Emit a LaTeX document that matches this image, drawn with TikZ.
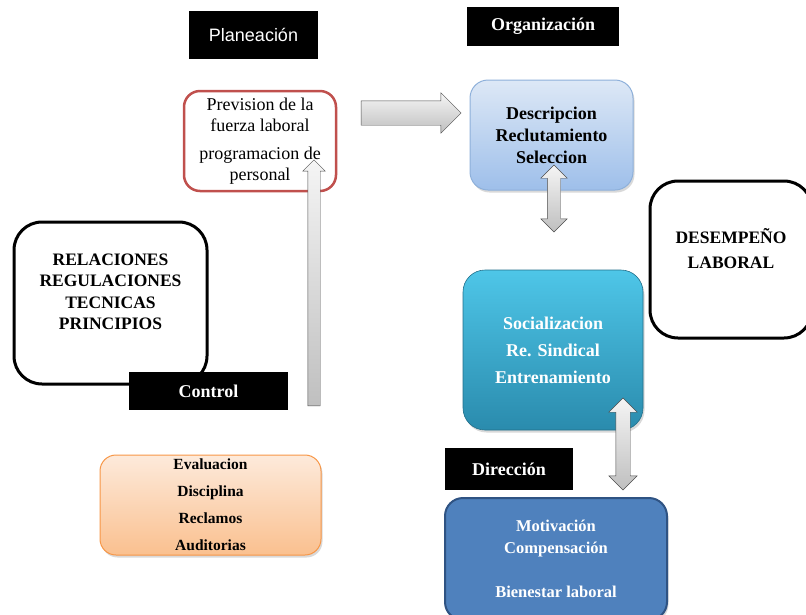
\documentclass[tikz,border=0pt]{standalone}
\usepackage{fontspec}
\setmainfont{Liberation Serif}
\newfontfamily\sansfnt{Liberation Sans}
\usetikzlibrary{shapes.arrows, shadows}
\definecolor{prevred}{HTML}{C0504D}
\definecolor{orgtop}{HTML}{DDE8F6}
\definecolor{orgbot}{HTML}{9EBFEA}
\definecolor{orgline}{HTML}{8EB0DA}
\definecolor{soctop}{HTML}{4EC6E8}
\definecolor{socbot}{HTML}{2A8BAD}
\definecolor{evaltop}{HTML}{FDEADB}
\definecolor{evalbot}{HTML}{FAC08F}
\definecolor{evalline}{HTML}{F79646}
\definecolor{motfill}{HTML}{4F81BD}
\definecolor{motline}{HTML}{2F5383}

\begin{document}
\begin{tikzpicture}[x=1pt, y=-1pt,
  tag/.style={fill=black, text=white, inner sep=0pt,
    font=\fontsize{18}{20}\selectfont\bfseries},
  box/.style={rounded corners=16pt, inner sep=0pt, align=center},
  bigbox/.style={box, rounded corners=28pt, draw=black, line width=3pt},
  softshadow/.style={drop shadow={shadow xshift=1.5pt, shadow yshift=-2.5pt, opacity=0.3}},
  blockarrow/.style={single arrow, single arrow head indent=0pt, inner xsep=0pt,
    draw=gray!60!black, top color=gray!8, bottom color=gray!50},
  twoarrow/.style={double arrow, double arrow head indent=0pt, inner xsep=0pt,
    draw=gray!60!black, top color=gray!8, bottom color=gray!50}]
\useasboundingbox (0,0) rectangle (806,614);

% ---------- black headings ----------
\node[tag, minimum width=129pt, minimum height=48pt,
  font=\sansfnt\fontsize{18}{20}\selectfont] (plan) at (253.5,35) {Planeación};
\node[tag, minimum width=152pt, minimum height=39pt] (org) at (543,26.5) {Organización};

% ---------- planning box ----------
\node[box, draw=prevred, line width=2.5pt, fill=white, minimum width=152pt,
  minimum height=100pt, font=\fontsize{18}{20.5}\selectfont] (prev) at (260,141)
  {Prevision de la\\fuerza laboral\\[8pt]programacion de\\personal};

% ---------- organisation box ----------
\node[box, rounded corners=18pt, draw=orgline, line width=1pt, top color=orgtop,
  bottom color=orgbot, softshadow, minimum width=163pt, minimum height=110pt,
  font=\fontsize{18}{22}\selectfont\bfseries] (desc) at (551.5,135)
  {Descripcion\\Reclutamiento\\Seleccion};

% ---------- side boxes ----------
\node[bigbox, minimum width=193pt, minimum height=162pt] (rel) at (110.5,303) {};
\node[align=center, inner sep=0pt, font=\fontsize{17.5}{21.5}\selectfont\bfseries]
  (relT) at (110.5,292) {RELACIONES\\REGULACIONES\\TECNICAS\\PRINCIPIOS};
\node[bigbox, minimum width=162pt, minimum height=157pt] (des) at (731,259.5) {};
\node[align=center, inner sep=0pt, font=\fontsize{17.5}{25}\selectfont\bfseries]
  (desT) at (731,249) {DESEMPEÑO\\LABORAL};

% ---------- socialisation box ----------
\node[box, rounded corners=22pt, draw=socbot!80!black, line width=0.6pt,
  top color=soctop, bottom color=socbot, softshadow, text=white,
  minimum width=180pt, minimum height=160pt,
  font=\fontsize{18}{27}\selectfont\bfseries] (soc) at (553,350)
  {Socializacion\\Re. Sindical\\Entrenamiento};

% ---------- control ----------
\node[tag, minimum width=159pt, minimum height=38pt] (ctrl) at (208.5,391) {Control};
\node[box, draw=evalline, line width=1pt, top color=evaltop, bottom color=evalbot,
  softshadow, minimum width=221pt, minimum height=100pt,
  font=\fontsize{15.5}{27}\selectfont\bfseries] (eval) at (210.5,505)
  {Evaluacion\\Disciplina\\Reclamos\\Auditorias};

% ---------- direction ----------
\node[tag, minimum width=128pt, minimum height=42pt] (dir) at (509,469) {Dirección};
\node[box, rounded corners=18pt, draw=motline, line width=2pt, fill=motfill,
  softshadow, text=white, minimum width=222pt, minimum height=122pt,
  font=\fontsize{16.5}{22}\selectfont\bfseries] (mot) at (556,559)
  {Motivación\\Compensación\\[22pt]Bienestar laboral};

% ---------- block arrows ----------
\node[blockarrow, minimum height=100pt, minimum width=40pt, inner ysep=12pt,
  single arrow head extend=8pt] (toOrg) at (405,113) {};
\node[blockarrow, rotate=90, minimum height=246pt, minimum width=22pt, inner ysep=6pt,
  single arrow head extend=5pt] (toPrev) at (314,286) {};
\node[twoarrow, rotate=90, minimum height=67pt, minimum width=26pt, inner ysep=6.5pt,
  double arrow head extend=6.5pt] (descSoc) at (554,198.5) {};
\node[twoarrow, rotate=90, minimum height=92pt, minimum width=28pt, inner ysep=7pt,
  double arrow head extend=7pt] (socMot) at (623,444) {};
\end{tikzpicture}
\end{document}
